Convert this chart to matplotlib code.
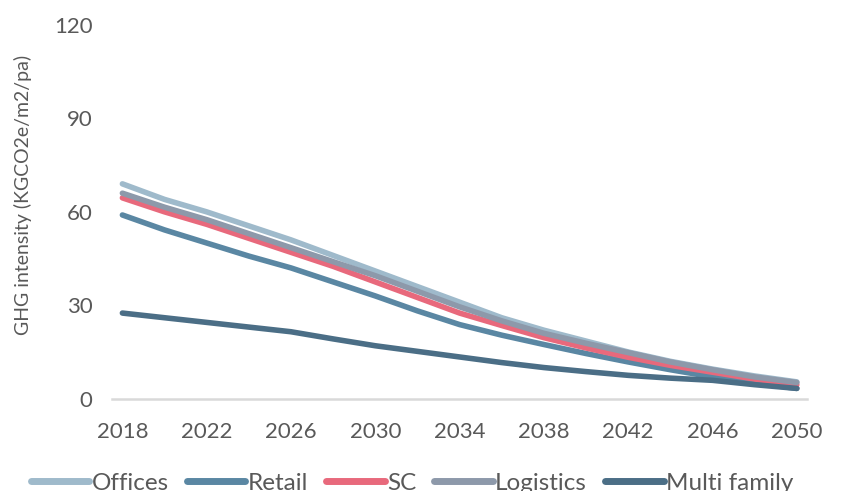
import numpy as np
import matplotlib.pyplot as plt

plt.rcParams['font.family'] = ['Lato', 'DejaVu Sans']

# values (every 2 years)
years = [2018, 2020, 2022, 2024, 2026, 2028, 2030, 2032, 2034,
         2036, 2038, 2040, 2042, 2044, 2046, 2048, 2050]
offices = [69, 64, 60, 55.5, 51, 46, 41, 36, 31, 26, 22, 18.5, 15, 12, 9.5, 7.3, 5.4]
retail = [59, 54.2, 50, 45.8, 42, 37.5, 33, 28.2, 23.8, 20.4, 17.4, 14.5, 11.8, 9.3, 7, 5, 3.3]
sc = [64.5, 60, 56, 51.5, 47, 42.5, 37.5, 32.5, 27.5, 23.5, 19.6, 16.3, 13.3, 10.7, 8.5, 6.3, 4.5]
logistics = [66, 61.5, 57.5, 53, 48.5, 44, 39.5, 34.5, 29.5, 25, 21, 17.8, 14.8, 11.8, 9.3, 7, 5.2]
multi_family = [27.5, 26, 24.5, 23, 21.5, 19.2, 17, 15.2, 13.4, 11.6, 10, 8.7, 7.5, 6.6, 5.9, 4.5, 3.3]

series = [
    ("Offices", offices, "#9fbacb"),
    ("Retail", retail, "#5a87a3"),
    ("SC", sc, "#e8697c"),
    ("Logistics", logistics, "#8d99aa"),
    ("Multi family", multi_family, "#4b6e86"),
]
xticks = list(range(2018, 2051, 4))
yticks = [0, 30, 60, 90, 120]

txt = "#595959"

fig = plt.figure(figsize=(8.41, 4.91), dpi=100)
ax = fig.add_axes([0.133, 0.188, 0.827, 0.761])

for name, vals, col in series:
    ax.plot(years, vals, color=col, lw=4, solid_capstyle='round',
            solid_joinstyle='round', label=name)

ax.set_xlim(2017.5, 2050.5)
ax.set_ylim(0, 120)
ax.set_xticks(xticks)
ax.set_yticks(yticks)
ax.tick_params(length=0, labelsize=16, colors=txt)
ax.tick_params(axis='x', pad=17)
ax.tick_params(axis='y', pad=14)
for s in ['top', 'right', 'left']:
    ax.spines[s].set_visible(False)
ax.spines['bottom'].set_color('#d9d9d9')
ax.spines['bottom'].set_linewidth(1.8)

fig.text(0.027, 0.603, "GHG intensity (KGCO2e/m2/pa)", rotation=90,
         ha='center', va='center', fontsize=14, color=txt)

leg = fig.legend(loc='center', bbox_to_anchor=(0.49, 0.016), ncol=5,
                 frameon=False, fontsize=17.5, handlelength=2.4,
                 handletextpad=0.1, columnspacing=0.75)
for line in leg.get_lines():
    line.set_linewidth(5)
for t in leg.get_texts():
    t.set_color(txt)

fig.savefig("out.png", dpi=100)
